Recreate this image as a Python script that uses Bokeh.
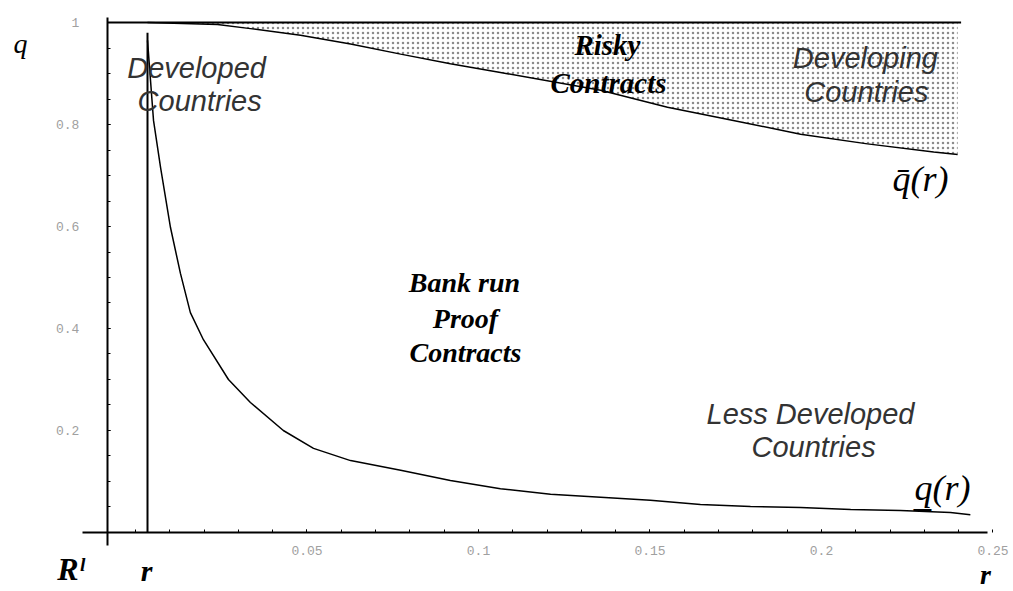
from bokeh.plotting import figure
from bokeh.models import FixedTicker, CustomJSTickFormatter, Label, Range1d, LinearAxis
from bokeh.embed import file_html
from bokeh.resources import INLINE

# ---- data ----
r_value = 0.0035          # vertical line "r"
r_line_top = 0.98

# upper boundary q-bar(r)
qbar_x = [0.0035, 0.0239, 0.0335, 0.0481, 0.0627, 0.0773, 0.0918, 0.1064,
          0.1356, 0.1551, 0.1743, 0.1939, 0.2134, 0.2327, 0.2397]
qbar_y = [1.0, 0.996, 0.988, 0.975, 0.958, 0.938, 0.919, 0.902,
          0.867, 0.834, 0.808, 0.781, 0.762, 0.746, 0.741]

# lower boundary q_(r)
qlow_x = [0.0035, 0.00525, 0.0073, 0.0102, 0.0131, 0.0160, 0.0198, 0.0271,
          0.0335, 0.0431, 0.0519, 0.0627, 0.0773, 0.0918, 0.1064, 0.1210,
          0.1356, 0.1501, 0.1647, 0.1793, 0.1939, 0.2085, 0.2230, 0.2376, 0.2434]
qlow_y = [0.965, 0.808, 0.716, 0.598, 0.508, 0.431, 0.378, 0.300,
          0.255, 0.200, 0.165, 0.141, 0.122, 0.102, 0.086, 0.075,
          0.069, 0.063, 0.055, 0.051, 0.049, 0.045, 0.043, 0.039, 0.035]

# q = 1 line
top_x = [-0.0082, 0.2407]
top_y = [1.0, 1.0]

x_major = [0.05, 0.1, 0.15, 0.2, 0.25]
y_major = [0.2, 0.4, 0.6, 0.8, 1.0]

R_l = -0.0082             # where the q axis crosses the r axis

X0, X1 = -0.03936, 0.25598
Y0, Y1 = -0.11569, 1.04314

p = figure(width=1013, height=591, output_backend="svg", toolbar_location=None,
           x_range=Range1d(X0, X1), y_range=Range1d(Y0, Y1),
           x_axis_location=None, y_axis_location=None,
           min_border=0)
p.outline_line_color = None
p.grid.visible = False
p.background_fill_color = "white"

xax = LinearAxis(fixed_location=0.0, bounds=(-0.01545, 0.2484))
yax = LinearAxis(fixed_location=R_l, bounds=(-0.0255, 1.01))
p.add_layout(xax, "below")
p.add_layout(yax, "left")

for ax in (xax, yax):
    ax.axis_line_width = 2
    ax.axis_line_color = "black"
    ax.major_tick_in = 3
    ax.major_tick_out = 0
    ax.minor_tick_in = 3
    ax.minor_tick_out = 0
    ax.major_tick_line_color = "black"
    ax.minor_tick_line_color = "black"
    ax.major_label_text_font = "Liberation Mono"
    ax.major_label_text_font_size = "13px"
    ax.major_label_text_color = "#a0a0a0"
    ax.formatter = CustomJSTickFormatter(code="return String(Math.round(tick*100)/100);")

xax.ticker = FixedTicker(ticks=x_major, minor_ticks=[i / 100 for i in range(0, 25)])
yax.ticker = FixedTicker(ticks=y_major, minor_ticks=[i / 20 for i in range(1, 21)])
xax.major_label_standoff = 14
yax.major_label_standoff = 28
yax.major_label_text_baseline = "bottom"

# shaded "risky" region
p.varea(x=qbar_x, y1=qbar_y, y2=[1.0] * len(qbar_x), fill_alpha=0,
        hatch_pattern="dot", hatch_color="black", hatch_alpha=0.45,
        hatch_scale=5, hatch_weight=1)

p.line(top_x, top_y, line_color="black", line_width=2)
p.line(qbar_x, qbar_y, line_color="black", line_width=1.5)
p.line(qlow_x, qlow_y, line_color="black", line_width=1.5)
p.segment(x0=[r_value], y0=[0.0], x1=[r_value], y1=[r_line_top], line_color="black", line_width=2)

def lab(text, x, y, font, size, style, color="black", baseline="alphabetic"):
    p.add_layout(Label(x=x, y=y, text=text, text_font=font, text_font_size=size,
                       text_font_style=style, text_color=color, text_align="center",
                       text_baseline=baseline))

sans = "Liberation Sans"
serif = "Liberation Serif"
lab("Developed", 0.0178, 0.910, sans, "29px", "italic", "#333")
lab("Countries", 0.0187, 0.847, sans, "29px", "italic", "#333")
lab("Risky", 0.1376, 0.955, serif, "29px", "bold italic")
lab("Contracts", 0.1379, 0.882, serif, "29px", "bold italic")
lab("Developing", 0.2128, 0.931, sans, "29px", "italic", "#333")
lab("Countries", 0.2131, 0.863, sans, "29px", "italic", "#333")
lab("Bank run", 0.0959, 0.490, serif, "28px", "bold italic")
lab("Proof", 0.0962, 0.420, serif, "28px", "bold italic")
lab("Contracts", 0.0962, 0.353, serif, "28px", "bold italic")
lab("Less Developed", 0.1968, 0.233, sans, "29px", "italic", "#333")
lab("Countries", 0.1977, 0.167, sans, "29px", "italic", "#333")
lab("q\u0304(r)", 0.2289, 0.694, serif, "36px", "italic", baseline="middle")
lab("q\u0332(r)", 0.2353, 0.088, serif, "36px", "italic", baseline="middle")
lab("q", -0.0335, 0.959, serif, "28px", "italic", baseline="middle")
lab("R\u02e1", -0.0189, -0.0706, serif, "32px", "bold italic", baseline="middle")
lab("r", 0.0032, -0.0745, serif, "30px", "bold italic", baseline="middle")
lab("r", 0.2478, -0.083, serif, "28px", "bold italic", baseline="middle")

open("out.html", "w").write(file_html(p, INLINE))
